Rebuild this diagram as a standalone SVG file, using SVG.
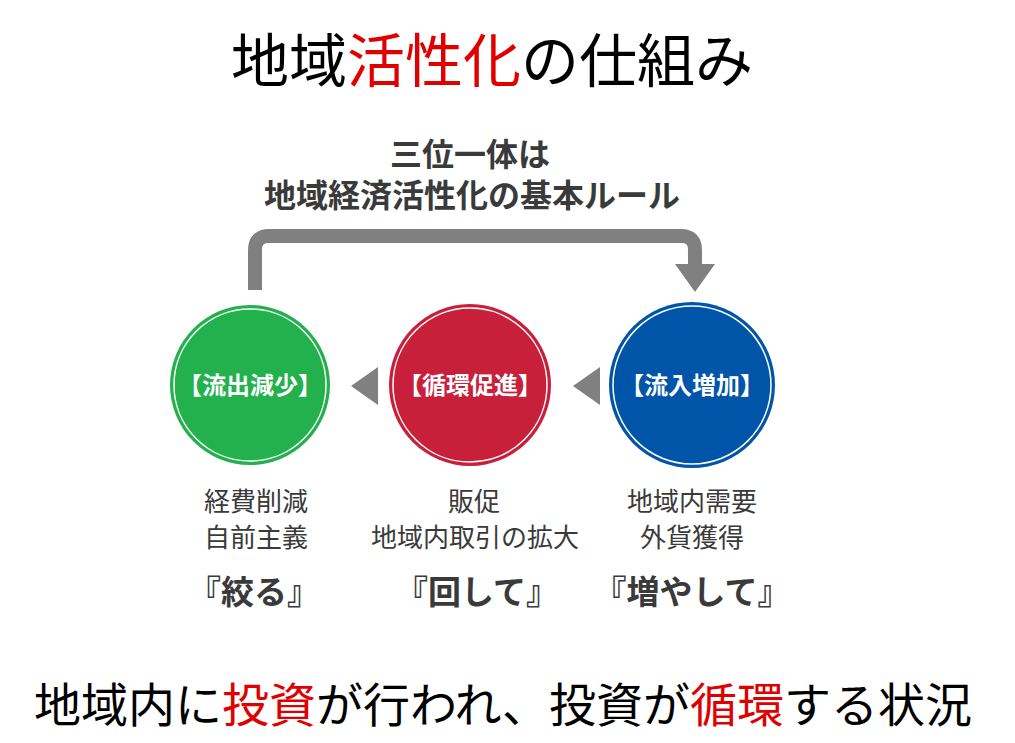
<svg xmlns="http://www.w3.org/2000/svg" width="1015" height="743" viewBox="0 0 1015 743">
<style>
text{font-family:"Noto Sans CJK JP",sans-serif;text-anchor:middle}
.t{font-size:58px;fill:#000}
.r{fill:#e00000}
.h{font-size:32px;fill:#3a3a3a;font-weight:bold}
.c{font-size:24px;fill:#fff;font-weight:bold}
.d{font-size:26px;fill:#3a3a3a}
.q{font-size:33px;fill:#3a3a3a;font-weight:bold}
.ring{fill:none;stroke:#fff;stroke-width:1.5}
</style>
<rect width="1015" height="743" fill="#fff"/>
<text class="t" x="492" y="82">地域<tspan class="r">活性化</tspan>の仕組み</text>
<text class="h" x="470" y="166">三位一体は</text>
<text class="h" x="472" y="207">地域経済活性化の基本ルール</text>
<g id="connectors" fill="#808080">
<path d="M255 290 V250 Q255 236 269 236 H681 Q695 236 695 250 V268" fill="none" stroke="#808080" stroke-width="14"/>
<polygon points="675,264 715,264 695,292"/>
<polygon points="351,386 378,367 378,405"/>
<polygon points="573,386 600,367 600,405"/>
</g>
<g id="n1"><circle cx="250" cy="385" r="80" fill="#22b14c"/><circle cx="250" cy="385" r="76" class="ring"/><text class="c" x="250" y="394">【流出減少】</text>
<text class="d" x="256" y="511">経費削減</text><text class="d" x="256" y="547">自前主義</text><text class="q" x="254" y="604">『絞る』</text></g>
<g id="n2"><circle cx="470" cy="385" r="81" fill="#c8203b"/><circle cx="470" cy="385" r="77" class="ring"/><text class="c" x="470" y="394">【循環促進】</text>
<text class="d" x="474" y="511">販促</text><text class="d" x="475" y="547">地域内取引の拡大</text><text class="q" x="477" y="604">『回して』</text></g>
<g id="n3"><circle cx="692" cy="385" r="83" fill="#0055a8"/><circle cx="692" cy="385" r="79" class="ring"/><text class="c" x="692" y="394">【流入増加】</text>
<text class="d" x="692" y="511">地域内需要</text><text class="d" x="692" y="547">外貨獲得</text><text class="q" x="692" y="604">『増やして』</text></g>
<text class="t" x="503" y="722" style="font-size:47px">地域内に<tspan class="r">投資</tspan>が行われ、投資が<tspan class="r">循環</tspan>する状況</text>
</svg>
